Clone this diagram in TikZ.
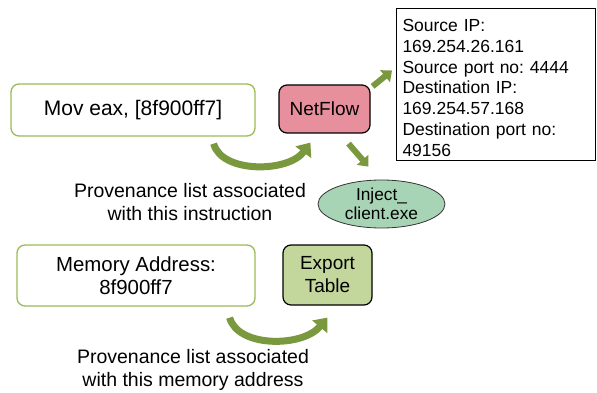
\documentclass[tikz,border=0pt]{standalone}
\usepackage{fontspec}
\setmainfont{Liberation Sans}
\usetikzlibrary{arrows.meta,shapes.geometric,positioning}
\definecolor{boxgreen}{RGB}{155,187,89}
\definecolor{flowpink}{RGB}{232,143,158}
\definecolor{exegreen}{RGB}{168,212,182}
\definecolor{tablegreen}{RGB}{195,214,155}
\definecolor{arrowgreen}{RGB}{122,152,62}
\frenchspacing

\begin{document}
\begin{tikzpicture}[x=1pt, y=-1pt,
		instrbox/.style={draw=boxgreen, line width=1.3pt, rounded corners=8pt, fill=white, align=center},
		srcbox/.style={draw=black, line width=1.2pt, rounded corners=8pt, align=center},
		infobox/.style={draw=black, line width=1pt, align=left, inner xsep=6pt, font=\fontsize{17.5}{20.8}\selectfont},
		exenode/.style={ellipse, draw=black!80, line width=0.8pt, fill=exegreen, align=center, font=\fontsize{17.3}{18.5}\selectfont},
		caption/.style={align=center, font=\fontsize{19.5}{23}\selectfont},
		curvearrow/.style={draw=arrowgreen, line width=7pt, -{Triangle[width=19pt,length=12pt]}},
		blockarrow/.style={draw=arrowgreen, line width=6pt, -{Triangle[width=15pt,length=9pt]}}]
		\tikzstyle{every node}=[inner sep=0pt]
		\useasboundingbox (0,0) rectangle (597,393);
		\node [instrbox, minimum width=244pt, minimum height=52pt, font=\fontsize{21}{25}\selectfont] (mov) at (133,110) {Mov eax, [8f900ff7]};
		\node [srcbox, fill=flowpink, minimum width=91pt, minimum height=48pt, font=\fontsize{19}{23}\selectfont] (netflow) at (324.5,109) {NetFlow};
		\node [infobox, anchor=north west, text width=187pt, minimum height=152pt] (info) at (396,8) {\rule{0pt}{19pt}Source IP:\\169.254.26.161\\Source port no: 4444\\Destination IP:\\169.254.57.168\\Destination port no:\\49156};
		\node [exenode, minimum width=127pt, minimum height=48pt] (exe) at (381.5,204) {Inject\_\\client.exe};
		\node [caption] (cap1) at (190,202) {Provenance list associated\\with this instruction};
		\node [instrbox, minimum width=238pt, minimum height=61pt, font=\fontsize{20.4}{23}\selectfont] (mem) at (136,275.5) {Memory Address:\\8f900ff7};
		\node [srcbox, fill=tablegreen, minimum width=89pt, minimum height=60pt, font=\fontsize{19}{23}\selectfont] (table) at (327.5,275) {Export\\Table};
		\node [caption] (cap2) at (193,370) {Provenance list associated\\with this memory address};
		\draw [curvearrow] ([shift={(-42,7)}]mov.south east) .. controls +(8,30) and +(-22,30) .. ([shift={(32,9)}]netflow.south west);
		\draw [curvearrow] ([shift={(-26,11)}]mem.south east) .. controls +(8,30) and +(-25,30) .. ([shift={(45,12)}]table.south west);
		\draw [blockarrow] ([shift={(2,2)}]netflow.north east) -- ([shift={(-4,-14)}]info.west);
		\draw [blockarrow] ([shift={(24,10)}]netflow.south) -- ([shift={(-13,-13)}]exe.north);
	\end{tikzpicture}
\end{document}
